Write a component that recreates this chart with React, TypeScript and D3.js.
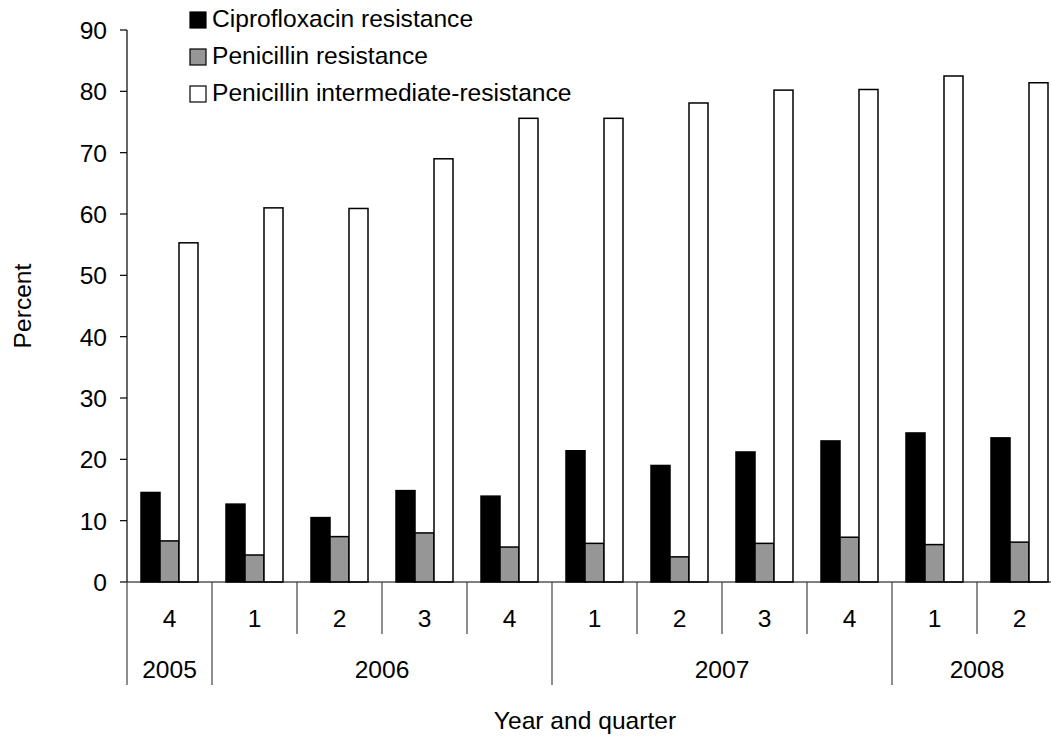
import React from "react";
import * as d3 from "d3";

const quarters = ["4", "1", "2", "3", "4", "1", "2", "3", "4", "1", "2"];
const years = ["2005", "2006", "2007", "2008"];
const yearSpans = [1, 4, 4, 2];
const seriesNames = [
  "Ciprofloxacin resistance",
  "Penicillin resistance",
  "Penicillin intermediate-resistance",
];
const cipro = [14.6, 12.7, 10.5, 14.9, 14.0, 21.4, 19.0, 21.2, 23.0, 24.3, 23.5];
const penicillin = [6.7, 4.4, 7.4, 8.0, 5.7, 6.3, 4.1, 6.3, 7.3, 6.1, 6.5];
const intermediate = [55.3, 61.0, 60.9, 69.0, 75.6, 75.6, 78.1, 80.2, 80.3, 82.5, 81.4];
const yTicks = [0, 10, 20, 30, 40, 50, 60, 70, 80, 90];

const seriesFills = ["#000000", "#969696", "#ffffff"];
const FONT = "'Liberation Sans', Arial, sans-serif";
const FS = 24.6;

export default function App() {
  const W = 1051;
  const H = 740;
  const left = 127;
  const catW = 85;
  const x = d3
    .scaleBand<number>()
    .domain(d3.range(quarters.length))
    .range([left, left + catW * quarters.length])
    .paddingInner(0)
    .paddingOuter(0);
  const xs = d3
    .scaleBand<number>()
    .domain([0, 1, 2])
    .range([0, x.bandwidth()])
    .paddingInner(0)
    .paddingOuter(0.737);
  const y = d3.scaleLinear().domain([0, 90]).range([582, 30]);
  const y0 = y(0);
  const data = [cipro, penicillin, intermediate];

  const yearStarts: number[] = [];
  let acc = 0;
  yearSpans.forEach((s) => {
    yearStarts.push(acc);
    acc += s;
  });

  const xEnd = left + catW * quarters.length;

  return (
    <svg
      width={W}
      height={H}
      style={{ position: "absolute", left: 0, top: 0, background: "#fff" }}
      fontFamily={FONT}
    >
      <rect x={0} y={0} width={W} height={H} fill="#fff" />
      {data.map((vals, si) =>
        vals.map((v, i) => (
          <rect
            key={`b${si}-${i}`}
            x={(x(i) as number) + (xs(si) as number)}
            y={y(v)}
            width={xs.bandwidth()}
            height={y0 - y(v)}
            fill={seriesFills[si]}
            stroke="#000"
            strokeWidth={1.5}
          />
        ))
      )}
      <line x1={left} x2={left} y1={y(90)} y2={y0} stroke="#000" strokeWidth={1.2} />
      {yTicks.map((t) => (
        <g key={`yt${t}`}>
          <line x1={left - 7} x2={left} y1={y(t)} y2={y(t)} stroke="#000" strokeWidth={1.2} />
          <text
            x={left - 20}
            y={y(t)}
            dy="0.36em"
            textAnchor="end"
            fontSize={FS}
            fill="#000"
          >
            {t}
          </text>
        </g>
      ))}
      <line x1={left} x2={xEnd} y1={y0} y2={y0} stroke="#000" strokeWidth={1.2} />
      {quarters.map((q, i) => (
        <line
          key={`qs${i}`}
          x1={x(i) as number}
          x2={x(i) as number}
          y1={y0}
          y2={yearStarts.includes(i) ? 685 : 634}
          stroke="#444"
          strokeWidth={1.2}
        />
      ))}
      {quarters.map((q, i) => (
        <text
          key={`ql${i}`}
          x={(x(i) as number) + x.bandwidth() / 2}
          y={627}
          textAnchor="middle"
          fontSize={FS}
          fill="#000"
        >
          {q}
        </text>
      ))}
      {years.map((yr, k) => {
        const a = x(yearStarts[k]) as number;
        const b = a + yearSpans[k] * x.bandwidth();
        return (
          <text
            key={`yl${k}`}
            x={(a + b) / 2}
            y={678}
            textAnchor="middle"
            fontSize={FS}
            fill="#000"
          >
            {yr}
          </text>
        );
      })}
      <text x={585} y={729} textAnchor="middle" fontSize={FS} fill="#000">
        Year and quarter
      </text>
      <text
        transform={`translate(31,306) rotate(-90)`}
        textAnchor="middle"
        fontSize={FS}
        fill="#000"
      >
        Percent
      </text>
      {seriesNames.map((name, si) => {
        const base = 27 + si * 37;
        return (
          <g key={`lg${si}`}>
            <rect
              x={190}
              y={base - 15}
              width={16}
              height={16}
              fill={seriesFills[si]}
              stroke="#000"
              strokeWidth={1.2}
            />
            <text x={212} y={base} fontSize={FS} fill="#000">
              {name}
            </text>
          </g>
        );
      })}
    </svg>
  );
}
